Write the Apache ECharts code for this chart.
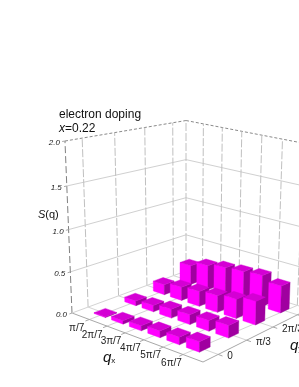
<!DOCTYPE html>
<html><head><meta charset="utf-8">
<style>html,body{margin:0;padding:0;background:#fff}#c{width:299px;height:387px}</style>
<script src="https://cdn.jsdelivr.net/npm/echarts@6/dist/echarts.min.js"></script>
</head><body><div id="c"></div>
<script>
var qxLabels = ['π/7','2π/7','3π/7','4π/7','5π/7','6π/7'];
var qyLabels = ['0','π/3','2π/3','π'];
var zTicks = [0, 0.5, 1.0, 1.5, 2.0];
var rowQy0 = [0.01, 0.04, 0.06, 0.08, 0.09, 0.12];
var rowQy1 = [0.06, 0.08, 0.11, 0.12, 0.13, 0.15];
var rowQy2 = [0.13, 0.17, 0.19, 0.21, 0.24, 0.29];
var rowQy3 = [0.25, 0.32, 0.36, 0.38, 0.40, 0.34];
var rows = [rowQy0, rowQy1, rowQy2, rowQy3];

// camera: floor quad corners and vertical vanishing point
var L=[72,313],F=[203,362],R=[309,309],B=[186,271],VP=[186,3100],K=-0.02906;
var dx1=F[0]-R[0],dx2=B[0]-R[0],sx=L[0]-F[0]+R[0]-B[0];
var dy1=F[1]-R[1],dy2=B[1]-R[1],sy=L[1]-F[1]+R[1]-B[1];
var den=dx1*dy2-dx2*dy1;
var g=(sx*dy2-dx2*sy)/den,h=(dx1*sy-sx*dy1)/den;
var a=F[0]-L[0]+g*F[0],b=B[0]-L[0]+h*B[0],c=L[0];
var d=F[1]-L[1]+g*F[1],e=B[1]-L[1]+h*B[1],f=L[1];
function proj(u,v,z){
  var t=(z||0)*K;
  var W=g*u+h*v+1+t;
  return [(a*u+b*v+c+t*VP[0])/W,(d*u+e*v+f+t*VP[1])/W];
}
var nx=qxLabels.length, ny=qyLabels.length, zMax=zTicks[zTicks.length-1];
function U(i){return 0.145+i*0.143}
function UW(i){return 0.145+i*0.1535}
function V(j){return (j+0.5)/ny}

// line table: [u1,v1,z1,u2,v2,z2,style]
var lines=[];
zTicks.forEach(function(z,n){
  if(n===0)return;
  var st = z===zMax?'top':'wall';
  lines.push([0,0,z,0,1,z,st]); lines.push([0,1,z,1,1,z,st]);
});
qyLabels.forEach(function(_,j){
  lines.push([0,V(j),0,0,V(j),zMax,'vert']);
  lines.push([0,V(j),0,1,V(j),0,'floor']);
});
qxLabels.forEach(function(_,i){
  lines.push([UW(i),1,0,UW(i),1,zMax,'vert']);
  lines.push([U(i),0,0,UW(i),1,0,'floor']);
});
lines.push([0,1,0,0,1,zMax,'vert']);
lines.push([1,1,0,1,1,zMax,'vert']);
lines.push([0,0,0,0,0,zMax,'axis']);
lines.push([0,0,0,1,0,0,'edge']); lines.push([1,0,0,1,1,0,'edge']);
lines.push([0,0,0,0,1,0,'floor']); lines.push([0,1,0,1,1,0,'floor']);
qxLabels.forEach(function(_,i){lines.push([U(i),0,0,U(i),-0.03,0,'edge'])});
qyLabels.forEach(function(_,j){lines.push([1,V(j),0,1.03,V(j),0,'edge'])});
zTicks.forEach(function(z){lines.push([0,0,z,0,-0.02,z,'edge'])});

var lineStyles={
  top:{stroke:'#8a8a8a',lineWidth:1,lineDash:[3,2]},
  wall:{stroke:'#d0d0d0',lineWidth:1},
  vert:{stroke:'#c0c0c0',lineWidth:1,lineDash:[8,2]},
  floor:{stroke:'#d4d4d4',lineWidth:1},
  axis:{stroke:'#808080',lineWidth:1,lineDash:[7,3]},
  edge:{stroke:'#a8a8a8',lineWidth:1}
};

// bars, far to near
var barData=[];
for(var j=ny-1;j>=0;j--)for(var i=0;i<nx;i++)barData.push([i,j,rows[j][i]]);
var DU=0.28,DV=0.18;

// axis texts
var txt=[];
qxLabels.forEach(function(s,i){txt.push([UW(i),0,0,s,'right','middle',-5-i*0.7,9-i*0.7,10,'normal'])});
qyLabels.forEach(function(s,j){txt.push([1,V(j),0,s,'left','middle',9,2,10,'normal'])});
zTicks.forEach(function(t){txt.push([0,0,t,t.toFixed(1),'right','middle',-5,2,8,'italic'])});

var chart=echarts.init(document.getElementById('c'),null,{renderer:'canvas'});
function P(api,u,v,z){return api.coord(proj(u,v,z))}
chart.setOption({
  animation:false,
  backgroundColor:'#fff',
  grid:{left:0,right:0,top:0,bottom:0},
  xAxis:{type:'value',min:0,max:299,show:false},
  yAxis:{type:'value',min:0,max:387,inverse:true,show:false},
  graphic:[
    {type:'text',left:59,top:109,style:{text:'electron doping',font:'12px "Liberation Sans"',fill:'#111'}},
    {type:'text',left:59,top:123,style:{text:'{i|x}=0.22',rich:{i:{font:'italic 12px "Liberation Sans"',fill:'#111'}},font:'12px "Liberation Sans"',fill:'#111'}},
    {type:'text',left:38,top:209,style:{text:'{i|S}(q)',rich:{i:{font:'italic 11px "Liberation Sans"',fill:'#111'}},font:'11px "Liberation Sans"',fill:'#111'}},
    {type:'text',left:103,top:350,style:{text:'{i|q}{s|x}',rich:{i:{font:'italic 15px "Liberation Sans"',fill:'#111'},s:{font:'8px "Liberation Sans"',fill:'#111',verticalAlign:'bottom',padding:[6,0,0,0]}}}},
    {type:'text',left:290,top:338,style:{text:'{i|q}{s|y}',rich:{i:{font:'italic 15px "Liberation Sans"',fill:'#111'},s:{font:'8px "Liberation Sans"',fill:'#111',verticalAlign:'bottom',padding:[6,0,0,0]}}}}
  ],
  series:[
    {type:'custom',coordinateSystem:'cartesian2d',silent:true,clip:false,z:1,data:lines,
     renderItem:function(p,api){
       var l=lines[p.dataIndex],A=P(api,l[0],l[1],l[2]),C=P(api,l[3],l[4],l[5]);
       return {type:'line',shape:{x1:A[0],y1:A[1],x2:C[0],y2:C[1]},style:lineStyles[l[6]]};
     }},
    {type:'custom',coordinateSystem:'cartesian2d',silent:true,clip:false,z:2,data:barData,
     renderItem:function(p,api){
       var b0=barData[p.dataIndex],u=U(b0[0]),v=V(b0[1]),z=b0[2];
       var u0=u-DU/nx, u1=u+DU/nx, v0=v-DV/ny, v1=v+DV/ny;
       function poly(pts,col){return {type:'polygon',shape:{points:pts.map(function(q){return P(api,q[0],q[1],q[2])})},style:{fill:col,stroke:col,lineWidth:0.4}}}
       return {type:'group',children:[
         poly([[u0,v0,0],[u1,v0,0],[u1,v0,z],[u0,v0,z]],'#ff00ff'),
         poly([[u1,v0,0],[u1,v1,0],[u1,v1,z],[u1,v0,z]],'#a000a0'),
         poly([[u0,v0,z],[u1,v0,z],[u1,v1,z],[u0,v1,z]],'#d400d4')
       ]};
     }},
    {type:'custom',coordinateSystem:'cartesian2d',silent:true,clip:false,z:3,data:txt,
     renderItem:function(p,api){
       var t=txt[p.dataIndex],A=P(api,t[0],t[1],t[2]);
       return {type:'text',x:A[0]+t[6],y:A[1]+t[7],style:{text:t[3],textAlign:t[4],textVerticalAlign:t[5],fill:'#222',font:t[9]+' '+t[8]+'px "Liberation Sans"'}};
     }}
  ]
});
</script></body></html>
